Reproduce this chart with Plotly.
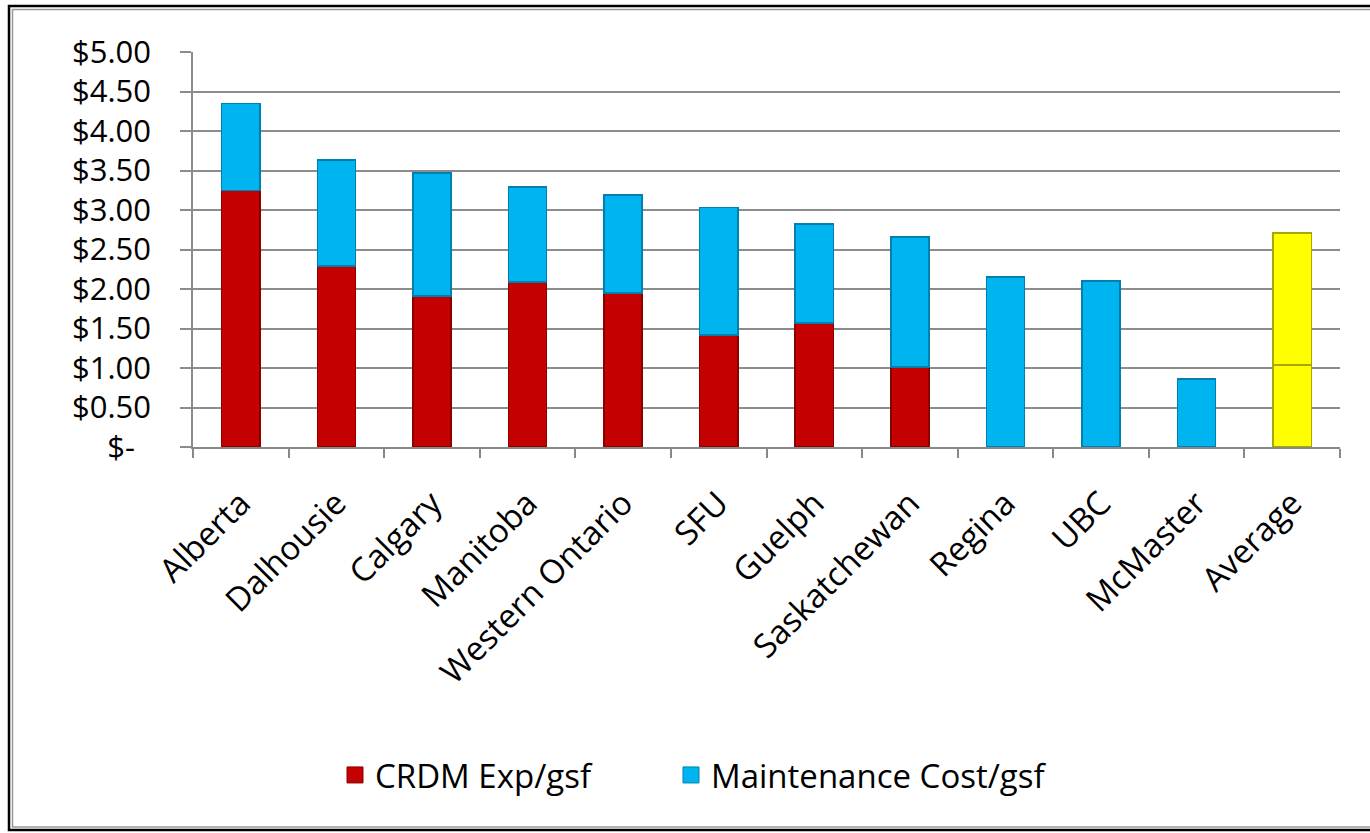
import plotly.graph_objects as go

categories = ["Alberta", "Dalhousie", "Calgary", "Manitoba", "Western Ontario", "SFU",
              "Guelph", "Saskatchewan", "Regina", "UBC", "McMaster", "Average"]
crdm = [3.25, 2.29, 1.91, 2.09, 1.95, 1.42, 1.57, 1.01, 0.0, 0.0, 0.0, 1.04]
totals = [4.35, 3.63, 3.47, 3.29, 3.19, 3.03, 2.82, 2.66, 2.15, 2.10, 0.86, 2.71]
maintenance = [round(t - c, 2) for t, c in zip(totals, crdm)]
series_names = ["CRDM Exp/gsf", "Maintenance Cost/gsf"]
tick_vals = [0, 0.5, 1.0, 1.5, 2.0, 2.5, 3.0, 3.5, 4.0, 4.5, 5.0]
tick_text = ["$-\u00a0\u00a0", "$0.50", "$1.00", "$1.50", "$2.00", "$2.50",
             "$3.00", "$3.50", "$4.00", "$4.50", "$5.00"]

RED, BLUE, YELLOW = "#C40000", "#00B4F0", "#FFFF00"
red_cols = [RED] * 11 + [YELLOW]
blue_cols = [BLUE] * 11 + [YELLOW]
red_lines = ["#8A0000"] * 11 + ["#A8A800"]
blue_lines = ["#0080B0"] * 11 + ["#A8A800"]

FONT = "Open Sans"

fig = go.Figure()
fig.add_trace(go.Bar(x=categories, y=crdm, name=series_names[0], showlegend=False,
                     marker=dict(color=red_cols, line=dict(color=red_lines, width=1.5))))
fig.add_trace(go.Bar(x=categories, y=maintenance, name=series_names[1], showlegend=False,
                     marker=dict(color=blue_cols, line=dict(color=blue_lines, width=1.5))))
# legend entries with larger square swatches
for nm, col, lc, lg in [(series_names[0], RED, "#8A0000", "legend"),
                        (series_names[1], BLUE, "#0080B0", "legend2")]:
    fig.add_trace(go.Scatter(x=[None], y=[None], mode="markers", name=nm, legend=lg,
                             marker=dict(symbol="square", size=17, color=col,
                                         line=dict(color=lc, width=1))))

W, H = 1370, 833
L, R, T, B = 193, 30, 52, 386
pw, ph = W - L - R, H - T - B

def px_x(p):
    return (p - L) / pw

def px_y(p):
    return (H - B - p) / ph

legend_style = dict(orientation="h", y=px_y(775), xanchor="left", yanchor="middle",
                    font=dict(size=33, family=FONT), itemwidth=30, bgcolor="rgba(0,0,0,0)")

fig.update_layout(
    width=W, height=H,
    margin=dict(l=L, r=R, t=T, b=B),
    barmode="stack",
    bargap=0.6,
    paper_bgcolor="white",
    plot_bgcolor="white",
    font=dict(family=FONT, color="#000000"),
    showlegend=True,
    legend=dict(x=px_x(335), **legend_style),
    legend2=dict(x=px_x(671), **legend_style),
    xaxis=dict(tickangle=-45, tickfont=dict(size=33, family=FONT), tickson="boundaries",
               ticks="outside", ticklen=9, tickcolor="#888888", tickwidth=1.5,
               ticklabelstandoff=22,
               showline=True, linecolor="#888888", linewidth=1.5, showgrid=False,
               range=[-0.5, 11.5]),
    yaxis=dict(range=[0, 5], tickvals=tick_vals, ticktext=tick_text,
               tickfont=dict(size=31, family=FONT), showgrid=True, gridcolor="#8C8C8C",
               gridwidth=1.5, ticks="outside", ticklen=11, tickcolor="#8C8C8C", tickwidth=1.5,
               ticklabelstandoff=23,
               showline=True, linecolor="#8C8C8C", linewidth=1.5, zeroline=False),
)

# outer double frame
fig.add_shape(type="rect", xref="paper", yref="paper",
              x0=px_x(9), x1=px_x(1380), y0=px_y(830), y1=px_y(6),
              line=dict(color="#000000", width=2.5), layer="above")
fig.add_shape(type="rect", xref="paper", yref="paper",
              x0=px_x(12.5), x1=px_x(1380), y0=px_y(827), y1=px_y(9.5),
              line=dict(color="#999999", width=1.5), layer="above")

fig.write_html("out.html", config={"displayModeBar": False},
               post_script="document.body.style.margin='0';")
